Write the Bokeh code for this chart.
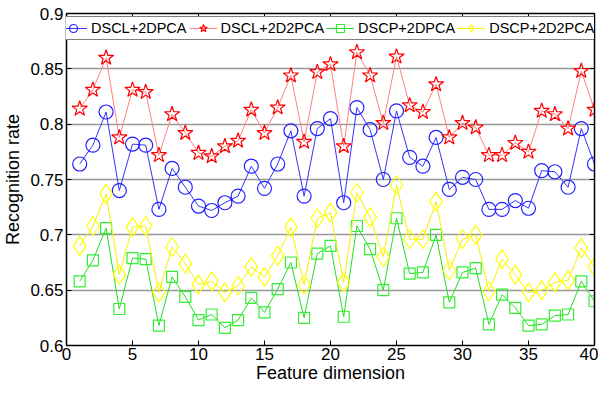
from bokeh.plotting import figure
from bokeh.models import (Range1d, FixedTicker, LinearAxis, Legend, LegendItem)
from bokeh.embed import file_html
from bokeh.resources import INLINE

dims = list(range(1, 41))

dscl_2dpca = [0.764, 0.781, 0.811, 0.740, 0.782, 0.781, 0.723, 0.760, 0.743, 0.726,
              0.722, 0.729, 0.735, 0.762, 0.742, 0.764, 0.794, 0.735, 0.796, 0.805,
              0.729, 0.815, 0.795, 0.750, 0.812, 0.770, 0.762, 0.788, 0.741, 0.752,
              0.750, 0.723, 0.723, 0.731, 0.724, 0.758, 0.757, 0.743, 0.796, 0.764]

dscl_2d2pca = [0.814, 0.831, 0.860, 0.788, 0.831, 0.829, 0.772, 0.809, 0.792, 0.774,
               0.771, 0.780, 0.785, 0.813, 0.792, 0.815, 0.844, 0.784, 0.847, 0.854,
               0.780, 0.865, 0.844, 0.801, 0.861, 0.817, 0.811, 0.836, 0.788, 0.801,
               0.797, 0.772, 0.772, 0.783, 0.775, 0.812, 0.809, 0.796, 0.848, 0.813]

dscp_2dpca = [0.658, 0.677, 0.706, 0.633, 0.679, 0.678, 0.618, 0.662, 0.644, 0.623,
              0.628, 0.616, 0.623, 0.643, 0.630, 0.651, 0.675, 0.625, 0.683, 0.690,
              0.626, 0.708, 0.687, 0.650, 0.715, 0.665, 0.666, 0.700, 0.639, 0.666,
              0.670, 0.619, 0.646, 0.634, 0.618, 0.619, 0.627, 0.628, 0.658, 0.640]

dscp_2d2pca = [0.690, 0.708, 0.737, 0.664, 0.707, 0.708, 0.648, 0.689, 0.674, 0.655,
               0.658, 0.648, 0.654, 0.671, 0.662, 0.681, 0.707, 0.655, 0.715, 0.720,
               0.657, 0.738, 0.716, 0.680, 0.745, 0.696, 0.696, 0.730, 0.668, 0.696,
               0.700, 0.649, 0.678, 0.664, 0.648, 0.650, 0.657, 0.659, 0.688, 0.671]

x_ticks = [0, 5, 10, 15, 20, 25, 30, 35, 40]
y_ticks = [0.6, 0.65, 0.7, 0.75, 0.8, 0.85, 0.9]
y_tick_labels = ["0.6", "0.65", "0.7", "0.75", "0.8", "0.85", "0.9"]

FONT = "Liberation Sans"

p = figure(width=598, height=385, output_backend="svg", toolbar_location=None,
           x_range=Range1d(0, 40), y_range=Range1d(0.6, 0.9),
           min_border_left=58, min_border_right=4, min_border_top=13, min_border_bottom=36)
p.outline_line_color = None
p.background_fill_color = "white"
p.border_fill_color = "white"

for ax in (p.xaxis[0], p.yaxis[0]):
    ax.axis_line_color = "black"
    ax.axis_line_width = 1.5
    ax.major_tick_in = 5
    ax.major_tick_out = 0
    ax.major_tick_line_color = "black"
    ax.major_tick_line_width = 1
    ax.minor_tick_line_color = None
    ax.major_label_text_font = FONT
    ax.major_label_text_font_size = "17px"
    ax.major_label_text_color = "black"
    ax.axis_label_text_font = FONT
    ax.axis_label_text_font_size = "18px"
    ax.axis_label_text_font_style = "normal"
    ax.axis_label_text_color = "black"

p.xaxis[0].ticker = FixedTicker(ticks=x_ticks)
p.yaxis[0].ticker = FixedTicker(ticks=y_ticks)
p.yaxis[0].major_label_overrides = {t: l for t, l in zip(y_ticks, y_tick_labels)}
p.xaxis[0].axis_label = "Feature dimension"
p.yaxis[0].axis_label = "Recognition rate"
p.xaxis[0].major_label_standoff = 2
p.xaxis[0].axis_label_standoff = 0
p.yaxis[0].major_label_standoff = 3
p.yaxis[0].axis_label_standoff = 4

top = LinearAxis(ticker=FixedTicker(ticks=x_ticks))
right = LinearAxis(ticker=FixedTicker(ticks=y_ticks))
for ax in (top, right):
    ax.axis_line_color = "black"
    ax.axis_line_width = 1.5
    ax.major_tick_in = 5
    ax.major_tick_out = 0
    ax.major_tick_line_color = "black"
    ax.minor_tick_line_color = None
    ax.major_label_text_font_size = "0px"
    ax.major_label_standoff = 0
p.add_layout(top, "above")
p.add_layout(right, "right")

p.xgrid.grid_line_color = None
p.ygrid.ticker = FixedTicker(ticks=y_ticks)
p.ygrid.grid_line_color = "#999999"
p.ygrid.grid_line_width = 1.5

l1 = p.line(dims, dscl_2dpca, line_color="#3333ff", line_width=1)
m1 = p.scatter(dims, dscl_2dpca, marker="circle", size=14, line_color="#2020ff",
               fill_color=None, line_width=1.2)
l2 = p.line(dims, dscl_2d2pca, line_color="#ff8080", line_width=1)
m2 = p.scatter(dims, dscl_2d2pca, marker="star", size=16, line_color="#ff0000",
               fill_color=None, line_width=1.2)
l3 = p.line(dims, dscp_2dpca, line_color="#22dd22", line_width=1)
m3 = p.scatter(dims, dscp_2dpca, marker="square", size=11, line_color="#33ee33",
               fill_color=None, line_width=1.2)
l4 = p.line(dims, dscp_2d2pca, line_color="#f5f000", line_width=1)
m4 = p.scatter(dims, dscp_2d2pca, marker="diamond", size=19, line_color="#ffff00",
               fill_color=None, line_width=1.2)

legend = Legend(items=[
    LegendItem(label="DSCL+2DPCA", renderers=[l1, m1]),
    LegendItem(label="DSCL+2D2PCA", renderers=[l2, m2]),
    LegendItem(label="DSCP+2DPCA", renderers=[l3, m3]),
    LegendItem(label="DSCP+2D2PCA", renderers=[l4, m4]),
], orientation="horizontal", location=(-9, 305))
legend.label_text_font = FONT
legend.label_text_font_size = "14.5px"
legend.label_text_color = "black"
legend.glyph_width = 28
legend.glyph_height = 20
legend.label_height = 16
legend.label_standoff = 4
legend.spacing = 2
legend.padding = 1
legend.margin = 0
legend.border_line_color = "black"
legend.border_line_width = 1.5
legend.background_fill_color = "white"
legend.background_fill_alpha = 1.0
p.add_layout(legend, "center")

open("out.html", "w").write(file_html(p, INLINE))
